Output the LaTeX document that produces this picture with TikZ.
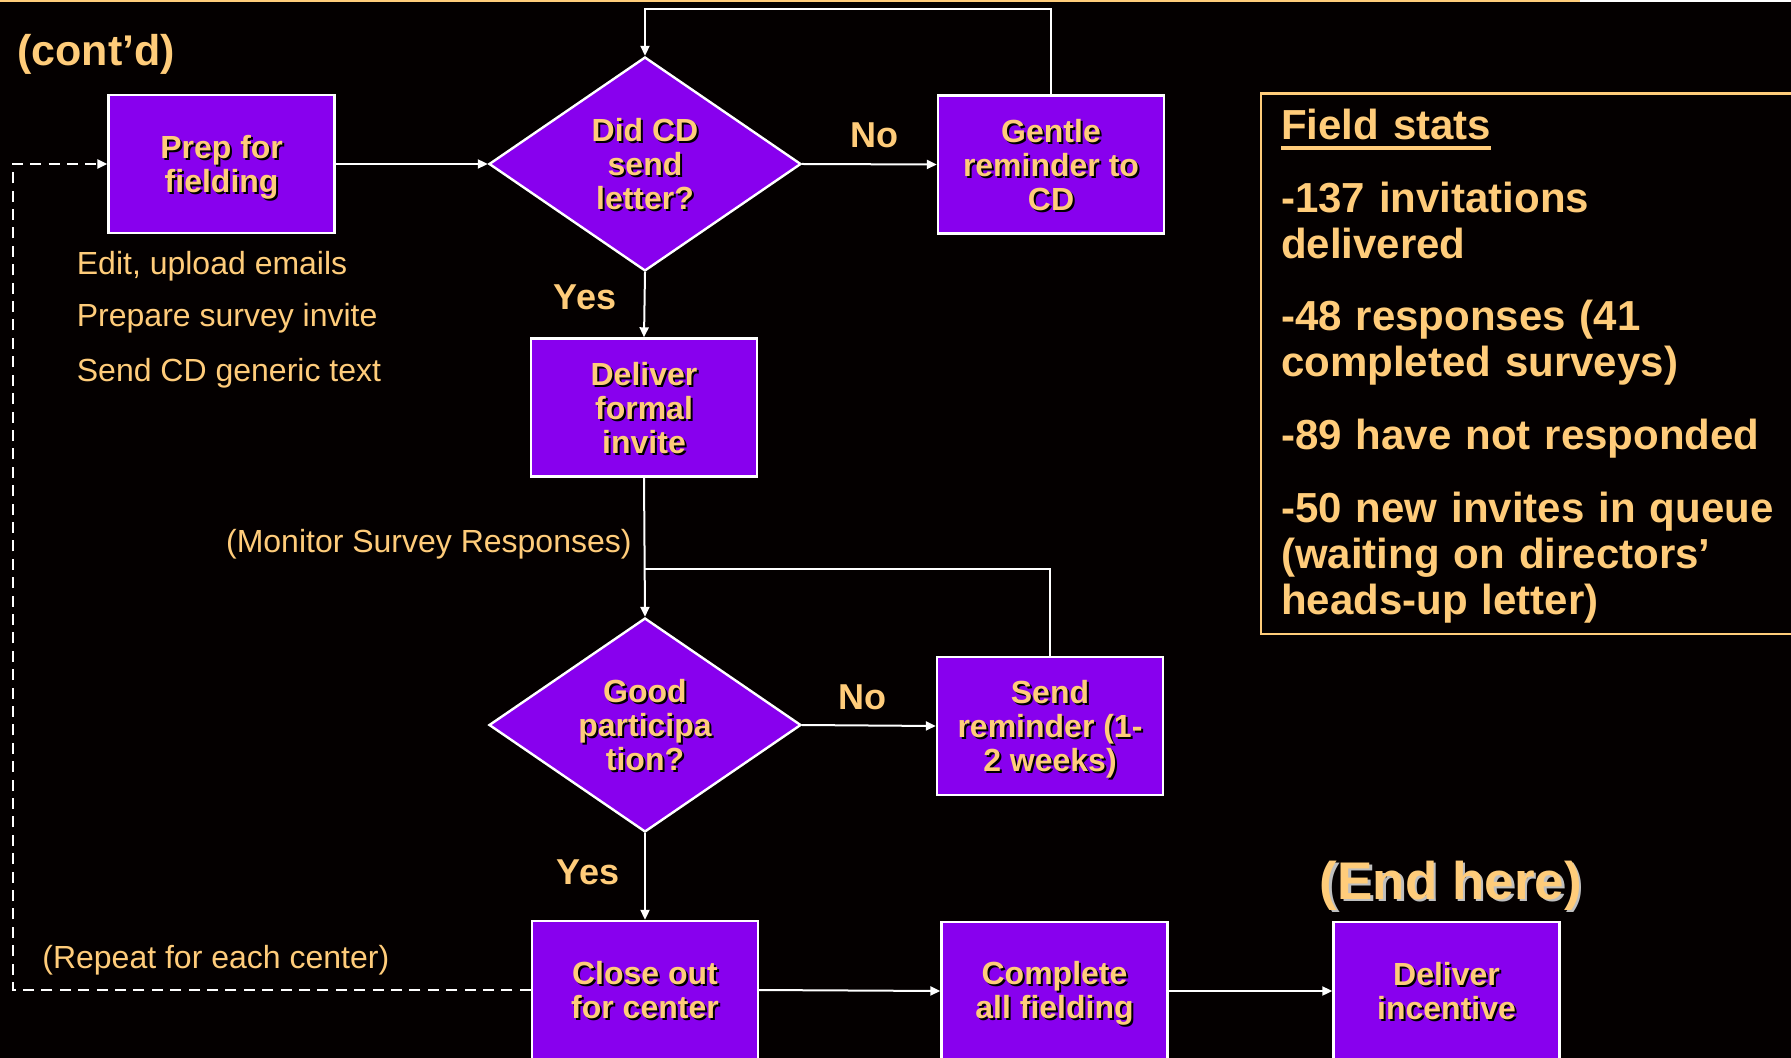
\documentclass[tikz,border=0pt]{standalone}
\usepackage{fontspec}
\setmainfont{Liberation Sans}
\usetikzlibrary{arrows.meta,shapes.geometric}
\definecolor{bg}{HTML}{040000}
\definecolor{pur}{HTML}{8800EE}
\definecolor{ora}{HTML}{FFCC7A}
\newcommand\sh[1]{\leavevmode\rlap{\kern1pt\raisebox{-1pt}{\color{black}#1}}#1}
\newcommand\shl[1]{\leavevmode\rlap{\kern1.2pt\raisebox{-1.2pt}{\color{white!75!black}#1}}#1}
\newcommand\fl[1]{\rule{0pt}{\dimexpr 11.7pt+#1\relax}}
\newcommand\myul[1]{\setbox0\hbox{#1}\rlap{\rule[-5.1pt]{\wd0}{1.8pt}}\box0}
\begin{document}
\begin{tikzpicture}[x=0.5pt,y=-0.5pt,
  box/.style={rectangle, draw=white, line width=1.2pt, fill=pur, minimum width=113pt, minimum height=69pt, inner sep=0pt, align=center, text=ora, font=\fontsize{16}{17}\selectfont\bfseries},
  decision/.style={diamond, draw=white, line width=1.2pt, fill=pur, minimum width=156pt, minimum height=107pt, aspect=1.46, inner sep=0pt, align=center, text=ora, font=\fontsize{16}{17}\selectfont\bfseries},
  conn/.style={draw=white, line width=1pt, -{Triangle[length=5pt,width=4.5pt]}},
  plainline/.style={draw=white, line width=1pt},
  dashconn/.style={draw=white, line width=1.15pt, dash pattern=on 5.5pt off 3.7pt, -{Triangle[length=5pt,width=4.5pt]}},
  lbl/.style={text=ora, font=\fontsize{18}{20}\selectfont\bfseries, inner sep=0pt},
  note/.style={text=ora, font=\fontsize{16}{18}\selectfont, inner sep=0pt},
  statsbox/.style={draw=ora, line width=1.2pt, anchor=north west, minimum height=270.25pt, text width=300pt, inner xsep=10pt, inner ysep=0pt, align=left, text=ora, font=\fontsize{21}{23}\selectfont\bfseries}
]
\fill[bg] (0,0) rectangle (1791,1058);
\useasboundingbox (0,0) rectangle (1791,1058);
\clip (0,0) rectangle (1791,1058);
\draw[ora, line width=1pt] (0,1) -- (1580,1);
\draw[white, line width=1pt] (1580,1) -- (1791,1);

% title
\node[text=ora, font=\fontsize{21.5}{24}\selectfont\bfseries, anchor=west, inner sep=0pt] (contd) at (17,54.5) {(cont’d)};

% boxes
\node[box] (prep) at (221.6,164) {\fl{4.4pt}\sh{Prep for}\\\sh{fielding}};
\node[decision] (d1) at (645,164) {\fl{1.1pt}\sh{Did CD}\\\sh{send}\\\sh{letter?}};
\node[box] (gentle) at (1051,164.5) {\fl{1.3pt}\sh{Gentle}\\\sh{reminder to}\\\sh{CD}};
\node[box] (formal) at (644,407.5) {\fl{1.3pt}\sh{Deliver}\\\sh{formal}\\\sh{invite}};
\node[decision] (d2) at (645,725) {\fl{1.1pt}\sh{Good}\\\sh{participa}\\\sh{tion?}};
\node[box] (send) at (1050,726) {\fl{4.6pt}\sh{Send}\\\sh{reminder (1-}\\\sh{2 weeks)}};
\node[box] (close) at (645,990) {\fl{1.1pt}\sh{Close out}\\\sh{for center}};
\node[box] (complete) at (1054.5,991) {\fl{3.4pt}\sh{Complete}\\\sh{all fielding}};
\node[box] (incentive) at (1446.5,991) {\fl{1.1pt}\sh{Deliver}\\\sh{incentive}};

% labels
\node[lbl] (no1) at (874,135) {No};
\node[lbl] (yes1) at (585,297) {Yes};
\node[lbl] (no2) at (862,697) {No};
\node[lbl] (yes2) at (588,872) {Yes};
\node[text=ora, font=\fontsize{26.5}{28}\selectfont\bfseries, inner sep=0pt] (endhere) at (1451,886.5) {\shl{(End here)}};

% notes
\node[note, anchor=west] (n1) at (76.5,266) {Edit, upload emails};
\node[note, anchor=west] (n2) at (76.5,318.4) {Prepare survey invite};
\node[note, anchor=west] (n3) at (76.5,373.4) {Send CD generic text};
\node[note, anchor=east] (mon) at (632,544.4) {(Monitor Survey Responses)};
\node[note, anchor=west] (rep) at (42,960.4) {(Repeat for each center)};

% stats
\node[statsbox] (stats) at (1260,92.5) {\rule{0pt}{17.5pt}\myul{Field stats}\\[13.3pt]
-137 invitations\\delivered\\[13.3pt]
-48 responses (41\\completed surveys)\\[13.5pt]
-89 have not responded\\[13.2pt]
-50 new invites in queue\\(waiting on directors’\\heads-up letter)};

% connectors
\coordinate (loop1) at (1051,9);
\coordinate (j2) at (645,569);
\coordinate (rl) at (12.7,0);
\draw[conn] (prep.east) -- (d1.west);
\draw[conn] (d1.east) -- (gentle.west);
\draw[conn] (gentle.north) -- (loop1) -| (d1.north);
\draw[conn] (d1.south) -- (formal.north);
\draw[conn] (formal.south) -- (d2.north);
\draw[plainline] (send.north) |- (j2);
\draw[conn] (d2.east) -- (send.west);
\draw[conn] (d2.south) -- (close.north);
\draw[conn] (close.east) -- (complete.west);
\draw[conn] (complete.east) -- (incentive.west);
\draw[dashconn] (close.west) -- (close.west -| rl) |- (prep.west);
\end{tikzpicture}
\end{document}
